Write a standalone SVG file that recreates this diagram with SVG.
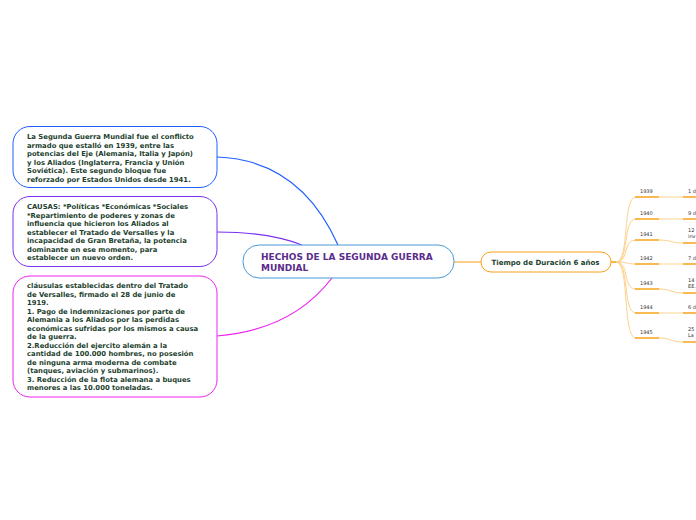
<svg xmlns="http://www.w3.org/2000/svg" width="696" height="520" viewBox="0 0 696 520">
<style>
.bt{font-family:"DejaVu Sans",Verdana,sans-serif;font-weight:bold;font-size:6.85px;fill:#1d3f2e}
.mt{font-family:"DejaVu Sans",Verdana,sans-serif;font-weight:bold;font-size:9px;fill:#5b2c8c}
.yt{font-family:"DejaVu Sans",Verdana,sans-serif;font-size:5px;fill:#333}
.ul{stroke:#f7a21b;stroke-width:1.6;fill:none}
.fc{stroke:#fdd28e;stroke-width:1;fill:none}
</style>
<rect width="696" height="520" fill="#fff"/>
<g id="connectors" fill="none">
<path d="M217,157 Q300,160 338,245" stroke="#1f5eff" stroke-width="1.2"/>
<path d="M217,232 Q268,232 302,245" stroke="#7b2ff0" stroke-width="1.2"/>
<path d="M217,336 Q292,330 332,278" stroke="#ee22ee" stroke-width="1.2"/>
<path d="M454,262 L481,262" stroke="#f7b040" stroke-width="1.2"/>
<path d="M611,262 L618,262" class="ul"/>
<g class="fc">
<path d="M616,262 C630,262 622,197 636,197"/>
<path d="M616,262 C630,262 622,219 636,219"/>
<path d="M616,262 C630,262 622,240 636,240"/>
<path d="M616,262 C628,262 626,264 636,264"/>
<path d="M616,262 C630,262 622,289 636,289"/>
<path d="M616,262 C630,262 622,313 636,313"/>
<path d="M616,262 C630,262 622,338 636,338"/>
<path d="M659,197 C671,197 671,197 683,197"/>
<path d="M659,219 C671,219 671,219 683,219"/>
<path d="M659,240 C671,240 671,243 683,243"/>
<path d="M659,264 C671,264 671,264 683,264"/>
<path d="M659,289 C671,289 671,293 683,293"/>
<path d="M659,313 C671,313 671,313 683,313"/>
<path d="M659,338 C671,338 671,342 683,342"/>
</g>
</g>
<g id="n1">
<rect x="13" y="126.5" width="204" height="61" rx="17" fill="#fff" stroke="#1f5eff" stroke-width="1"/>
<text class="bt"><tspan x="27" y="139">La Segunda Guerra Mundial fue el conflicto</tspan><tspan x="27" y="147.5">armado que estalló en 1939, entre las</tspan><tspan x="27" y="156">potencias del Eje (Alemania, Italia y Japón)</tspan><tspan x="27" y="164.5">y los Aliados (Inglaterra, Francia y Unión</tspan><tspan x="27" y="173">Soviética). Este segundo bloque fue</tspan><tspan x="27" y="181.5">reforzado por Estados Unidos desde 1941.</tspan></text>
</g>
<g id="n2">
<rect x="13" y="196.5" width="204" height="70" rx="17" fill="#fff" stroke="#7b2ff0" stroke-width="1"/>
<text class="bt"><tspan x="27" y="209">CAUSAS: *Políticas *Económicas *Sociales</tspan><tspan x="27" y="217.5">*Repartimiento de poderes y zonas de</tspan><tspan x="27" y="226">influencia que hicieron los Aliados al</tspan><tspan x="27" y="234.5">establecer el Tratado de Versalles y la</tspan><tspan x="27" y="243">incapacidad de Gran Bretaña, la potencia</tspan><tspan x="27" y="251.5">dominante en ese momento, para</tspan><tspan x="27" y="260">establecer un nuevo orden.</tspan></text>
</g>
<g id="n3">
<rect x="13" y="276" width="204" height="121" rx="17" fill="#fff" stroke="#ee22ee" stroke-width="1"/>
<text class="bt"><tspan x="27" y="288">cláusulas establecidas dentro del Tratado</tspan><tspan x="27" y="296.5">de Versalles, firmado el 28 de junio de</tspan><tspan x="27" y="305">1919.</tspan><tspan x="27" y="313.5">1. Pago de indemnizaciones por parte de</tspan><tspan x="27" y="322">Alemania a los Aliados por las perdidas</tspan><tspan x="27" y="330.5">económicas sufridas por los mismos a causa</tspan><tspan x="27" y="339">de la guerra.</tspan><tspan x="27" y="347.5">2.Reducción del ejercito alemán a la</tspan><tspan x="27" y="356">cantidad de 100.000 hombres, no posesión</tspan><tspan x="27" y="364.5">de ninguna arma moderna de combate</tspan><tspan x="27" y="373">(tanques, aviación y submarinos).</tspan><tspan x="27" y="381.5">3. Reducción de la flota alemana a buques</tspan><tspan x="27" y="390">menores a las 10.000 toneladas.</tspan></text>
</g>
<g id="main">
<rect x="243" y="245" width="211" height="33" rx="16" fill="#fff" stroke="#4a9ad6" stroke-width="1"/>
<text class="mt"><tspan x="261" y="260">HECHOS DE LA SEGUNDA GUERRA</tspan><tspan x="261" y="271">MUNDIAL</tspan></text>
</g>
<g id="tiempo">
<rect x="481" y="252" width="130" height="20" rx="10" fill="#fff" stroke="#f7a21b" stroke-width="1"/>
<text class="bt" x="545.5" y="264.5" text-anchor="middle" style="font-size:7.05px">Tiempo de Duración 6 años</text>
</g>
<g id="years">
<path class="ul" d="M635,197H659M635,219H659M635,240H659M635,264H659M635,289H659M635,313H659M635,338H659"/>
<text class="yt" x="640" y="192.5">1939</text>
<text class="yt" x="640" y="214.5">1940</text>
<text class="yt" x="640" y="235.5">1941</text>
<text class="yt" x="640" y="259.5">1942</text>
<text class="yt" x="640" y="284.5">1943</text>
<text class="yt" x="640" y="308.5">1944</text>
<text class="yt" x="640" y="333.5">1945</text>
</g>
<g id="details">
<path class="ul" d="M683,197H700M683,219H700M683,243H700M683,264H700M683,293H700M683,313H700M683,342H700"/>
<text class="yt" x="688" y="192.5">1 d</text>
<text class="yt" x="688" y="214.5">9 d</text>
<text class="yt"><tspan x="688" y="232">12</tspan><tspan x="688" y="238">inv</tspan></text>
<text class="yt" x="688" y="259.5">7 d</text>
<text class="yt"><tspan x="688" y="282">14</tspan><tspan x="688" y="288">EE.</tspan></text>
<text class="yt" x="688" y="308.5">6 d</text>
<text class="yt"><tspan x="688" y="331">25</tspan><tspan x="688" y="337">La</tspan></text>
</g>
</svg>
